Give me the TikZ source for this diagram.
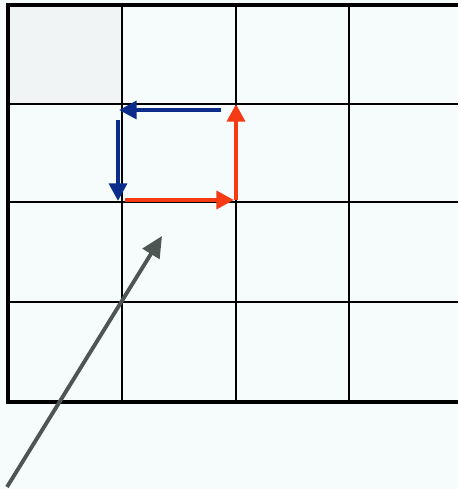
\documentclass[tikz,border=0pt]{standalone}
\usetikzlibrary{arrows.meta}
\definecolor{bgcol}{HTML}{F6FBFB}
\definecolor{cellgray}{HTML}{F0F4F4}
\definecolor{redarr}{HTML}{F53A14}
\definecolor{bluearr}{HTML}{0B2C8A}
\definecolor{grayarr}{HTML}{4E5654}
\begin{document}
\begin{tikzpicture}[x=0.02cm,y=-0.02cm,>={Triangle[length=10pt,width=10pt]}]
  \useasboundingbox (0,0) rectangle (458,489);
  \fill[bgcol] (0,0) rectangle (458,489);
  \fill[cellgray] (8,5) rectangle (122,104);
  % grid
  \foreach \x in {122,236,349} \draw[line width=1.1pt] (\x,5) -- (\x,402);
  \foreach \y in {104,202,302} \draw[line width=1.1pt] (8,\y) -- (458,\y);
  \draw[line width=2.3pt] (458,5) -- (8,5) -- (8,402) -- (458,402);
  % corners of the loop
  \coordinate (rs) at (125,200);
  \coordinate (re) at (234,200);
  \coordinate (us) at (236,200);
  \coordinate (ue) at (236,104);
  \coordinate (ls) at (221,110);
  \coordinate (le) at (119,110);
  \coordinate (ds) at (118,120);
  \coordinate (de) at (118,201);
  \draw[redarr,line width=2.7pt,->] (rs) -- (re);
  \draw[redarr,line width=2.7pt,->] (us) -- (ue);
  \draw[bluearr,line width=2.7pt,->] (ls) -- (le);
  \draw[bluearr,line width=2.7pt,->] (ds) -- (de);
  % pointer
  \coordinate (ps) at (7,487);
  \coordinate (pe) at (162,236);
  \draw[grayarr,line width=2.2pt,-{Triangle[length=12pt,width=11pt]}] (ps) -- (pe);
\end{tikzpicture}
\end{document}
